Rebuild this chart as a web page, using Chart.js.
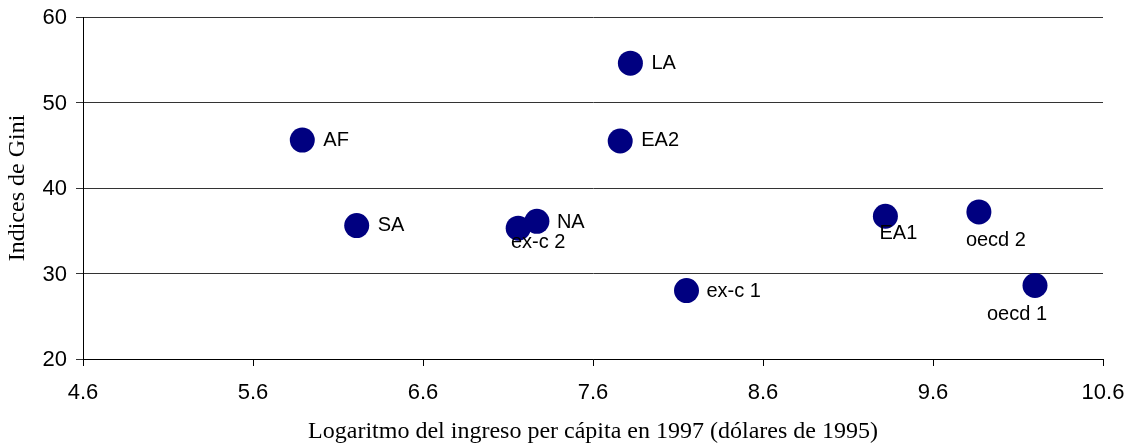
<!DOCTYPE html>
<html>
<head>
<meta charset="utf-8">
<script src="https://cdn.jsdelivr.net/npm/chart.js@4/dist/chart.umd.min.js"></script>
<style>
  html, body { margin: 0; padding: 0; background: #fff; }
  #wrap { width: 1133px; height: 446px; }
</style>
</head>
<body>
<div id="wrap"><canvas id="giniChart"></canvas></div>
<script>
// regiones y valores
const regions = ['AF', 'SA', 'ex-c 2', 'NA', 'LA', 'EA2', 'ex-c 1', 'EA1', 'oecd 2', 'oecd 1'];
const logIncome = [5.89, 6.21, 7.16, 7.27, 7.82, 7.76, 8.15, 9.32, 9.87, 10.20];
const giniIndex = [45.6, 35.6, 35.3, 36.1, 54.6, 45.5, 28.0, 36.7, 37.2, 28.6];
const xTicks = [4.6, 5.6, 6.6, 7.6, 8.6, 9.6, 10.6];
const yTicks = [20, 30, 40, 50, 60];

// donde va cada etiqueta respecto al punto
const labelPlace = {
  'AF': [21, 0, 'left'],
  'SA': [21, 0, 'left'],
  'NA': [20, 1, 'left'],
  'LA': [21, 0, 'left'],
  'EA2': [21, 0, 'left'],
  'ex-c 1': [20, 1, 'left'],
  'ex-c 2': [20, 14, 'center'],
  'EA1': [13, 17, 'center'],
  'oecd 2': [17, 29, 'center'],
  'oecd 1': [-18, 29, 'center']
};

const pointLabels = {
  id: 'pointLabels',
  afterDatasetsDraw(chart) {
    const ctx = chart.ctx;
    const meta = chart.getDatasetMeta(0);
    ctx.save();
    ctx.font = '20px "Liberation Sans", Arial, sans-serif';
    ctx.fillStyle = '#000';
    ctx.textBaseline = 'middle';
    meta.data.forEach((pt, i) => {
      const p = labelPlace[regions[i]] || [20, 0, 'left'];
      ctx.textAlign = p[2];
      ctx.fillText(regions[i], pt.x + p[0], pt.y + p[1]);
    });
    ctx.restore();
  }
};

function noPad(axis) {
  axis.paddingTop = 0;
  axis.paddingBottom = 0;
  axis.paddingLeft = 0;
  axis.paddingRight = 0;
}

const ctx = document.getElementById('giniChart').getContext('2d');
new Chart(ctx, {
  type: 'scatter',
  data: {
    datasets: [{
      label: 'Gini',
      data: logIncome.map((x, i) => ({ x: x, y: giniIndex[i] })),
      backgroundColor: '#000080',
      borderColor: '#000080',
      borderWidth: 0,
      pointRadius: 12.5,
      pointHoverRadius: 12.5
    }]
  },
  options: {
    responsive: true,
    maintainAspectRatio: false,
    animation: false,
    layout: { padding: { top: 17, right: 30, left: 0, bottom: 0 } },
    plugins: {
      legend: { display: false },
      tooltip: { enabled: false }
    },
    scales: {
      x: {
        type: 'linear',
        min: 4.6,
        max: 10.6,
        afterBuildTicks: (axis) => { axis.ticks = xTicks.map(v => ({ value: v })); },
        afterFit: (axis) => { axis.height = 87; noPad(axis); },
        ticks: {
          color: '#000',
          padding: 14,
          font: { family: '"Liberation Sans", Arial, sans-serif', size: 22 },
          callback: (v) => v.toFixed(1)
        },
        grid: { drawOnChartArea: false, drawTicks: true, tickLength: 7, color: '#000' },
        border: { color: '#000', width: 1 },
        title: {
          display: true,
          text: 'Logaritmo del ingreso per cápita en 1997 (dólares de 1995)',
          color: '#000',
          font: { family: '"Liberation Serif", "Times New Roman", serif', size: 24 },
          padding: { top: 0, bottom: 0 }
        }
      },
      y: {
        min: 20,
        max: 60,
        afterBuildTicks: (axis) => { axis.ticks = yTicks.map(v => ({ value: v })); },
        afterFit: (axis) => { axis.width = 83; noPad(axis); },
        ticks: {
          color: '#000',
          padding: 9,
          labelOffset: 1,
          font: { family: '"Liberation Sans", Arial, sans-serif', size: 22 }
        },
        grid: { color: '#333', lineWidth: 1, tickLength: 7, drawTicks: true },
        border: { color: '#000', width: 1 },
        title: {
          display: true,
          text: 'Indices de Gini',
          color: '#000',
          font: { family: '"Liberation Serif", "Times New Roman", serif', size: 24 },
          padding: { top: 3, bottom: 0 }
        }
      }
    }
  },
  plugins: [pointLabels]
});
</script>
</body>
</html>
